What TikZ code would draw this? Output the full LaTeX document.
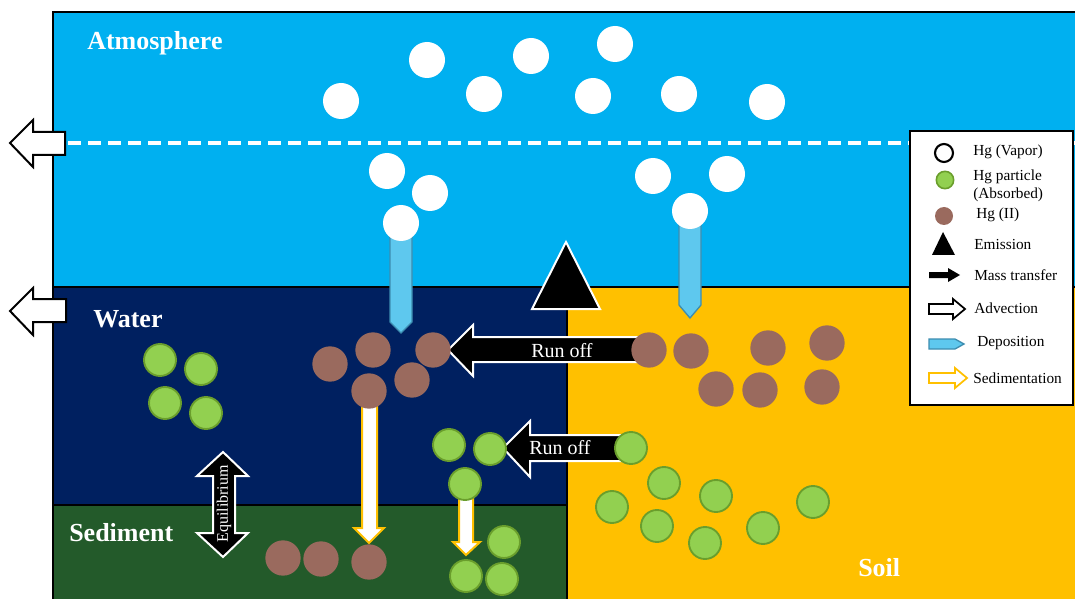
\documentclass[tikz,border=0pt]{standalone}
\usepackage{fontspec}
\setmainfont{Liberation Serif}
\definecolor{atmo}{HTML}{00B0F0}
\definecolor{waterc}{HTML}{002060}
\definecolor{sedic}{HTML}{235A2A}
\definecolor{soilc}{HTML}{FFC000}
\definecolor{hgp}{HTML}{92D050}
\definecolor{hgpedge}{HTML}{6A9E2C}
\definecolor{hgii}{HTML}{9A6A5E}
\definecolor{depo}{HTML}{5EC8EE}
\definecolor{depoedge}{HTML}{3D8DB0}
\definecolor{sedline}{HTML}{FFC000}
\begin{document}
\begin{tikzpicture}[x=0.75pt,y=-0.75pt,
  vapor/.style={circle,fill=white,minimum size=27pt,inner sep=0pt},
  hgtwo/.style={circle,fill=hgii,minimum size=26.5pt,inner sep=0pt},
  particle/.style={circle,fill=hgp,draw=hgpedge,line width=1.4pt,minimum size=24pt,inner sep=0pt},
  region/.style={font=\bfseries\fontsize{19.5}{22}\selectfont,text=white,inner sep=0pt,anchor=west},
  advect/.style={fill=white,draw=black,line width=1.5pt,line join=miter},
  runoff/.style={fill=black,draw=white,line width=1.5pt,line join=miter},
  deposit/.style={fill=depo,draw=depoedge,line width=1pt},
  sediarrow/.style={fill=white,draw=sedline,line width=1.5pt,line join=miter},
  runtext/.style={font=\fontsize{15}{18}\selectfont,text=white,inner sep=0pt},
  legtext/.style={font=\fontsize{11.5}{13.5}\selectfont,anchor=west,inner sep=0pt,align=left},
  boundary/.style={draw=black,line width=1.5pt}
]
\useasboundingbox (0,0) rectangle (1075,599);

% compartments
\fill[atmo]   (53,12)  rectangle (1075,287);
\fill[waterc] (53,287) rectangle (567,505);
\fill[sedic]  (53,505) rectangle (567,599);
\fill[soilc]  (567,287) rectangle (1075,599);
\draw[boundary] (1076,12) -- (53,12) -- (53,600);
\draw[boundary] (53,287) -- (1076,287);
\draw[boundary] (567,287) -- (567,600);
\draw[boundary] (53,505) -- (567,505);

% boundary layer of the atmosphere
\draw[white,line width=2.4pt,dash pattern=on 9.5pt off 5.5pt] (68,143) -- (1075,143);

% advection out of the atmosphere and the water
\draw[advect] (10,143) -- (33,120) -- (33,132) -- (65,132) -- (65,155) -- (33,155) -- (33,167) -- cycle;
\draw[advect] (10,311) -- (33,288) -- (33,299) -- (66,299) -- (66,322) -- (33,322) -- (33,335) -- cycle;

% deposition
\draw[deposit] (390,225) -- (412,225) -- (412,322) -- (401,333) -- (390,322) -- cycle;
\draw[deposit] (679,211) -- (701,211) -- (701,305) -- (690,318) -- (679,305) -- cycle;

% sedimentation
\draw[sediarrow] (362,391) -- (377,391) -- (377,528) -- (384,528) -- (369,543) -- (354,528) -- (362,528) -- cycle;
\draw[sediarrow] (459,484) -- (473,484) -- (473,542) -- (480,542) -- (466,555) -- (453,542) -- (459,542) -- cycle;

% run off
\draw[runoff] (448,350) -- (473,325) -- (473,337) -- (640,337) -- (640,362) -- (473,362) -- (473,376) -- cycle;
\node[runtext] (run1) at (562,351) {Run off};
\draw[runoff] (503,448) -- (530,421) -- (530,435) -- (625,435) -- (625,461) -- (530,461) -- (530,477) -- cycle;
\node[runtext] (run2) at (560,448) {Run off};

% equilibrium water/sediment
\draw[runoff] (223,452) -- (248,476) -- (235,476) -- (235,533) -- (248,533) -- (223,557) -- (197,533) -- (213,533) -- (213,476) -- (197,476) -- cycle;
\node[text=white,font=\fontsize{12}{14}\selectfont,rotate=90,inner sep=0pt] (equi) at (224,504) {Equilibrium};

% emission
\draw[fill=black,draw=white,line width=1.5pt] (566,242) -- (600,309) -- (532,309) -- cycle;

% Hg vapor
\foreach \n/\px/\py in {v1/341/101,v2/427/60,v3/484/94,v4/531/56,v5/615/44,v6/593/96,v7/679/94,v8/767/102,
  v9/387/171,v10/430/193,v11/401/223,v12/653/176,v13/727/174,v14/690/211}
  \node[vapor] (\n) at (\px,\py) {};

% Hg(II)
\foreach \n/\px/\py in {w1/330/364,w2/373/350,w3/433/350,w4/412/380,w5/369/391,
  s1/649/350,s2/691/351,s3/768/348,s4/827/343,s5/716/389,s6/760/390,s7/822/387,
  d1/283/558,d2/321/559,d3/369/562}
  \node[hgtwo] (\n) at (\px,\py) {};

% Hg particles
\foreach \n/\px/\py in {p1/160/360,p2/201/369,p3/165/403,p4/206/413,p5/449/445,p6/490/449,p7/465/484,
  q1/631/448,q2/664/483,q3/612/507,q4/716/496,q5/657/526,q6/705/543,q7/763/528,q8/813/502,
  r1/504/542,r2/466/576,r3/502/579}
  \node[particle] (\n) at (\px,\py) {};

% compartment names
\node[region] (atm) at (87,43) {Atmosphere};
\node[region] (wat) at (93,319) {Water};
\node[region] (sed) at (69,533) {Sediment};
\node[region] (soi) at (858,568) {Soil};

% legend
\draw[fill=white,draw=black,line width=1.5pt] (910,131) rectangle (1073,405);
\node[circle,fill=white,draw=black,line width=1.6pt,minimum size=13.5pt,inner sep=0pt] (kv) at (944,153) {};
\node[legtext] (kvt) at (973,152) {Hg (Vapor)};
\node[circle,fill=hgp,draw=hgpedge,line width=1.2pt,minimum size=13pt,inner sep=0pt] (kp) at (945,180) {};
\node[legtext] (kpt) at (973,186) {Hg particle\\(Absorbed)};
\node[circle,fill=hgii,minimum size=13.5pt,inner sep=0pt] (kh) at (944,216) {};
\node[legtext] (kht) at (976,215) {Hg (II)};
\fill[black] (943,232) -- (955,255) -- (932,255) -- cycle;
\node[legtext] (ket) at (974,244) {Emission};
\fill[black] (929,272) -- (948,272) -- (948,268) -- (960,275) -- (948,282) -- (948,278) -- (929,278) -- cycle;
\node[legtext] (kmt) at (974,275) {Mass transfer};
\draw[advect,line width=1.3pt] (929,304) -- (953,304) -- (953,299) -- (965,309) -- (953,319) -- (953,314) -- (929,314) -- cycle;
\node[legtext] (kat) at (974,308) {Advection};
\draw[deposit] (929,339) -- (955,339) -- (964,344) -- (955,349) -- (929,349) -- cycle;
\node[legtext] (kdt) at (977,343) {Deposition};
\draw[sediarrow,line width=1.3pt] (929,373) -- (955,373) -- (955,368) -- (967,378) -- (955,388) -- (955,383) -- (929,383) -- cycle;
\node[legtext] (kst) at (973,378) {Sedimentation};
\end{tikzpicture}
\end{document}
